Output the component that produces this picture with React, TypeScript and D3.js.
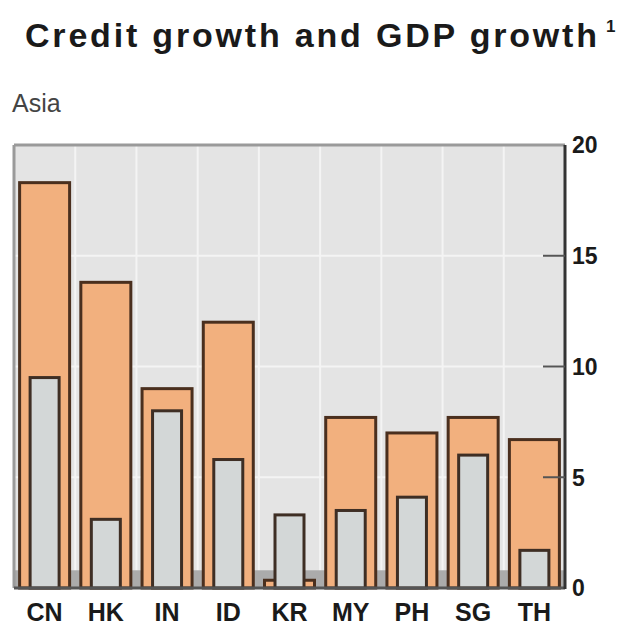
import React from "react";
import * as d3 from "d3";

const categories = ["CN", "HK", "IN", "ID", "KR", "MY", "PH", "SG", "TH"];
const creditGrowth = [18.3, 13.8, 9.0, 12.0, 0.35, 7.7, 7.0, 7.7, 6.7];
const gdpGrowth = [9.5, 3.1, 8.0, 5.8, 3.3, 3.5, 4.1, 6.0, 1.7];
const yTicks = [0, 5, 10, 15, 20];
const bottomBandValue = 0.8;

const W = 631;
const H = 627;
const left = 14;
const right = 565;
const top = 145;
const bottom = 588;

export default function App() {
  const x = d3.scaleBand<string>().domain(categories).range([left, right]).padding(0);
  const y = d3.scaleLinear().domain([0, 20]).range([bottom, top]);
  const bw = x.bandwidth();
  const outerW = 50;
  const innerW = 29;
  const font = "'Liberation Sans', Arial, sans-serif";

  return (
    <svg width={W} height={H} style={{ position: "absolute", left: 0, top: 0, background: "#fff" }}>
      <text x={25} y={47} fontFamily={font} fontWeight="bold" fontSize={34} fill="#1a1a1a" textLength={572} lengthAdjust="spacing">
        Credit growth and GDP growth
      </text>
      <text x={606} y={32} fontFamily={font} fontWeight="bold" fontSize={17} fill="#1a1a1a">1</text>
      <text x={12} y={112} fontFamily={font} fontSize={25} fill="#444">Asia</text>

      <rect x={left} y={top} width={right - left} height={bottom - top} fill="#e4e4e4" />
      {yTicks.filter(t => t > 0 && t < 20).map(t => (
        <line key={"h" + t} x1={left} x2={right} y1={y(t)} y2={y(t)} stroke="#f4f4f4" strokeWidth={2} />
      ))}
      {categories.slice(1).map(c => (
        <line key={"v" + c} x1={x(c)!} x2={x(c)!} y1={top} y2={bottom} stroke="#f4f4f4" strokeWidth={2} />
      ))}
      <rect x={left} y={y(bottomBandValue)} width={right - left} height={bottom - y(bottomBandValue)} fill="#ababab" />

      {categories.map((c, i) => {
        const cx = x(c)! + bw / 2;
        return (
          <g key={c}>
            <rect x={cx - outerW / 2} y={y(creditGrowth[i])} width={outerW} height={bottom - y(creditGrowth[i])}
              fill="#f2b07e" stroke="#4a2f1e" strokeWidth={3} />
            <rect x={cx - innerW / 2} y={y(gdpGrowth[i])} width={innerW} height={bottom - y(gdpGrowth[i])}
              fill="#d3d7d7" stroke="#3e2e24" strokeWidth={3} />
          </g>
        );
      })}

      <line x1={left} x2={right} y1={top} y2={top} stroke="#9a9a9a" strokeWidth={3} />
      <line x1={left} x2={left} y1={top} y2={bottom} stroke="#9a9a9a" strokeWidth={3} />
      <line x1={left} x2={right} y1={bottom} y2={bottom} stroke="#555" strokeWidth={3} />
      <line x1={right} x2={right} y1={top} y2={bottom + 1} stroke="#333" strokeWidth={3} />

      {yTicks.map(t => (
        <g key={"t" + t}>
          {t > 0 && t < 20 && (
            <line x1={right - 22} x2={right} y1={y(t)} y2={y(t)} stroke="#555" strokeWidth={2} />
          )}
          <text x={572} y={y(t)} dy="0.36em" fontFamily={font} fontWeight="bold" fontSize={23} fill="#1a1a1a">{t}</text>
        </g>
      ))}

      {categories.map(c => (
        <text key={"l" + c} x={x(c)! + bw / 2} y={621} textAnchor="middle" fontFamily={font} fontWeight="bold" fontSize={25} fill="#1a1a1a">{c}</text>
      ))}
    </svg>
  );
}
